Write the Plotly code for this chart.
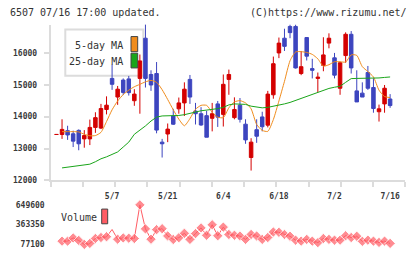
import plotly.graph_objects as go

# ---------------- data ----------------
idx = list(range(61))  # trading-day index, 7/16 = 60
open_ = [13440, 13440, 13560, 13462, 13569, 13302, 13302, 13662, 13640, 14225,
         15200, 14615, 15148, 15185, 14500, 15200, 16462, 15323, 15354, 13200,
         13455, 14021, 14246, 14431, 15169, 14175, 14092, 14031, 13948, 14400,
         14071, 15169, 13969, 14360, 13763, 12717, 13591, 13991, 13732, 14686,
         16000, 16462, 16831, 16831, 15354, 16483, 15508, 15200, 15609, 16308,
         15846, 14892, 15917, 16585, 14809, 14738, 15385, 14914, 14154, 14400,
         14554]
high = [13440, 13917, 13714, 13560, 13600, 13578, 13908, 14138, 14400, 14637,
        15631, 14963, 15200, 15277, 14862, 15950, 16900, 15455, 15714, 13302,
        13785, 14246, 14600, 15077, 15308, 14431, 14298, 14185, 14431, 14492,
        15323, 15477, 14606, 14585, 13917, 13323, 13917, 14154, 14809, 15886,
        16483, 16760, 16892, 16892, 16062, 16492, 15815, 15385, 16492, 16615,
        16000, 15723, 16646, 16686, 15455, 15077, 15591, 15200, 14378, 14994,
        14708]
low = [13440, 13302, 13271, 13046, 12945, 13025, 13108, 13492, 13610, 14071,
       14840, 14370, 14677, 14662, 14340, 14092, 14914, 14809, 13477, 12717,
       13200, 13740, 14092, 14021, 14400, 13754, 13714, 13354, 13538, 13677,
       13690, 14686, 13917, 13815, 13148, 12308, 13178, 13538, 13662, 14563,
       15837, 16062, 16462, 15508, 15302, 15763, 15200, 14769, 15425, 16145,
       15200, 14686, 15692, 15354, 14462, 14615, 14840, 14123, 13846, 14123,
       14277]
close = [13441, 13600, 13425, 13231, 13148, 13406, 13662, 13969, 14255, 14360,
         15015, 14862, 14760, 14754, 14708, 15750, 15200, 14994, 13578, 13148,
         13609, 13763, 14431, 14862, 14615, 14092, 13738, 13354, 14092, 13985,
         15015, 15323, 14225, 13917, 13271, 13200, 13385, 13683, 14708, 15662,
         16308, 16206, 16637, 15529, 15569, 15898, 15455, 15240, 15938, 16462,
         15302, 15692, 16585, 15529, 14462, 14615, 14892, 14255, 14246, 14892,
         14348]
ma5 = [None, 13529, 13529, 13529, 13520, 13446, 13400, 13406, 13508, 13846,
       14215, 14492, 14692, 14831, 14938, 15015, 15092, 15138, 15077, 14846,
       14538, 14215, 13923, 13714, 13938, 14231, 14354, 14354, 14138, 13985,
       13969, 14277, 14462, 14502, 14431, 14246, 13754, 13569, 13538, 13908,
       14492, 15108, 15754, 16031, 16040, 16015, 15954, 15815, 15585, 15631,
       15723, 15723, 15714, 15938, 15923, 15569, 15415, 15246, 14831, 14631,
       14600]
ma25 = [None, 12391, 12415, 12446, 12477, 12498, 12508, 12585, 12677, 12738,
        12815, 12892, 13046, 13200, 13446, 13569, 13708, 13862, 13985, 14022,
        14022, 14022, 14037, 14062, 14108, 14154, 14185, 14206, 14225, 14252,
        14292, 14369, 14400, 14400, 14385, 14329, 14308, 14277, 14292, 14323,
        14360, 14400, 14446, 14508, 14569, 14631, 14708, 14775, 14831, 14886,
        14923, 14954, 15077, 15194, 15200, 15200, 15200, 15200, 15215, 15231,
        15246]
vol_idx = list(range(1, 61))
volume = [120000, 120000, 167300, 130100, 72800, 87100, 158700, 173000, 184400, 290000,
          148700, 167300, 163000, 158700, 649600, 298900, 148700, 287500, 301800, 195900,
          144400, 170100, 234500, 145800, 230200, 313300, 205900, 359100, 198800, 324700,
          217400, 205900, 194500, 145800, 217400, 194500, 145800, 173000, 253100, 248900,
          217400, 191600, 134400, 120000, 145800, 120000, 98600, 158700, 145800, 134400,
          134400, 198800, 173000, 191600, 117200, 134400, 120000, 101400, 120000, 87100]
vol_marker = [8] * 60
vol_marker[9] = 0  # no marker drawn on this day

price_ticks = [12000, 13000, 14000, 15000, 16000]
price_labels = ["12000", "13000", "14000", "15000", "16000"]
vol_ticks = [77100, 363350, 649600]
vol_labels = ["77100", "363350", "649600"]
date_ticks = [10, 20, 30, 40, 50, 60]
date_labels = ["5/7", "5/21", "6/4", "6/18", "7/2", "7/16"]

# ---------------- style ----------------
W, H = 420, 253
RED = "#d40000"
BLUE = "#3d45bf"
ORANGE = "#f08c1c"
GREEN = "#1aa51a"
VOLC = "#ff5c64"
AXC = "#dcdcdc"
TXT = "#333333"
MONO = "DejaVu Sans Mono"
TICKFONT = dict(family=MONO, size=8, color="#3a3a3a", weight="bold")

def fx(p):
    return p / W

def fy(p):
    return 1 - p / H

XR = [-1.04, 62.73]
minor_vals = [XR[0] + k * (XR[1] - XR[0]) / 11 for k in range(12)]

fig = go.Figure()
fig.add_trace(go.Candlestick(
    x=idx, open=open_, high=high, low=low, close=close,
    increasing=dict(line=dict(color=RED, width=1), fillcolor=RED),
    decreasing=dict(line=dict(color=BLUE, width=1), fillcolor=BLUE),
    whiskerwidth=0, hoverinfo="skip", xaxis="x", yaxis="y", showlegend=False))
fig.add_trace(go.Scatter(x=idx, y=ma5, mode="lines", line=dict(color=ORANGE, width=1, shape="spline", smoothing=0.6),
                         hoverinfo="skip", showlegend=False, xaxis="x", yaxis="y"))
fig.add_trace(go.Scatter(x=idx, y=ma25, mode="lines", line=dict(color=GREEN, width=1),
                         hoverinfo="skip", showlegend=False, xaxis="x", yaxis="y"))
fig.add_trace(go.Scatter(x=vol_idx, y=volume, mode="lines+markers",
                         line=dict(color=VOLC, width=1),
                         marker=dict(symbol="diamond", size=vol_marker, color=VOLC),
                         cliponaxis=False,
                         hoverinfo="skip", showlegend=False, xaxis="x2", yaxis="y2"))

ydom = [fy(184), fy(25)]
yr = [12000, 12000 + (184 - 25) * 1000 / 32.5]
vdom = [fy(253), fy(200)]
vpp = (363350 - 77100) / 20.0
vr = [77100 - (253 - 249) * vpp, 77100 + (249 - 200) * vpp]

fig.update_layout(
    width=W, height=H, autosize=False,
    margin=dict(l=0, r=0, t=0, b=0),
    paper_bgcolor="white", plot_bgcolor="white",
    boxgap=0.1,
    xaxis=dict(domain=[fx(50.7), fx(405.3)], range=XR, anchor="y",
               showline=True, linecolor=AXC, linewidth=2,
               showgrid=False, zeroline=False,
               tickmode="array", tickvals=date_ticks, ticktext=date_labels,
               ticks="", ticklabelstandoff=7,
               tickfont=TICKFONT,
               minor=dict(tickmode="array", tickvals=minor_vals, ticks="outside",
                          ticklen=5, tickcolor=AXC, tickwidth=2),
               rangeslider=dict(visible=False), fixedrange=True),
    yaxis=dict(domain=ydom, range=yr, anchor="x",
               showline=True, linecolor=AXC, linewidth=2,
               showgrid=False, zeroline=False,
               tickmode="array", tickvals=price_ticks, ticktext=price_labels,
               ticks="outside", ticklen=5, tickcolor=AXC, tickwidth=2,
               ticklabelstandoff=5,
               tickfont=TICKFONT),
    xaxis2=dict(domain=[fx(50.7), fx(405.3)], range=XR, anchor="y2",
                visible=False, fixedrange=True),
    yaxis2=dict(domain=vdom, range=vr, anchor="x2",
                showline=False, showgrid=False, zeroline=False,
                tickmode="array", tickvals=vol_ticks, ticktext=vol_labels,
                ticks="", ticklabelstandoff=5,
                tickfont=TICKFONT),
)

shapes = [
    # MA legend box
    dict(type="rect", xref="paper", yref="paper", x0=fx(65.3), x1=fx(143.3), y0=fy(77.3), y1=fy(30),
         line=dict(color=AXC, width=2), fillcolor="white", layer="below"),
    dict(type="rect", xref="paper", yref="paper", x0=fx(131), x1=fx(137.7), y0=fy(52.7), y1=fy(37.3),
         line=dict(color="#444444", width=1), fillcolor=ORANGE, layer="above"),
    dict(type="rect", xref="paper", yref="paper", x0=fx(131), x1=fx(137.7), y0=fy(69.3), y1=fy(54.3),
         line=dict(color="#444444", width=1), fillcolor=GREEN, layer="above"),
    dict(type="rect", xref="paper", yref="paper", x0=fx(101.7), x1=fx(107.7), y0=fy(228.3), y1=fy(213.3),
         line=dict(color="#444444", width=1), fillcolor=VOLC, layer="above"),
]
ann = [
    dict(text="6507 07/16 17:00 updated.", x=fx(8), y=fy(13), xanchor="left", yanchor="middle"),
    dict(text="(C)https://www.rizumu.net/", x=fx(409), y=fy(13), xanchor="right", yanchor="middle"),
    dict(text="5-day MA", x=fx(125), y=fy(46), xanchor="right", yanchor="middle"),
    dict(text="25-day MA", x=fx(125), y=fy(63), xanchor="right", yanchor="middle"),
    dict(text="Volume", x=fx(58.5), y=fy(222.3), xanchor="left", yanchor="middle"),
]
for a in ann:
    a.update(xref="paper", yref="paper", showarrow=False,
             font=dict(family=MONO, size=10, color=TXT))
fig.update_layout(shapes=shapes, annotations=ann)

fig.write_html("out.html")
